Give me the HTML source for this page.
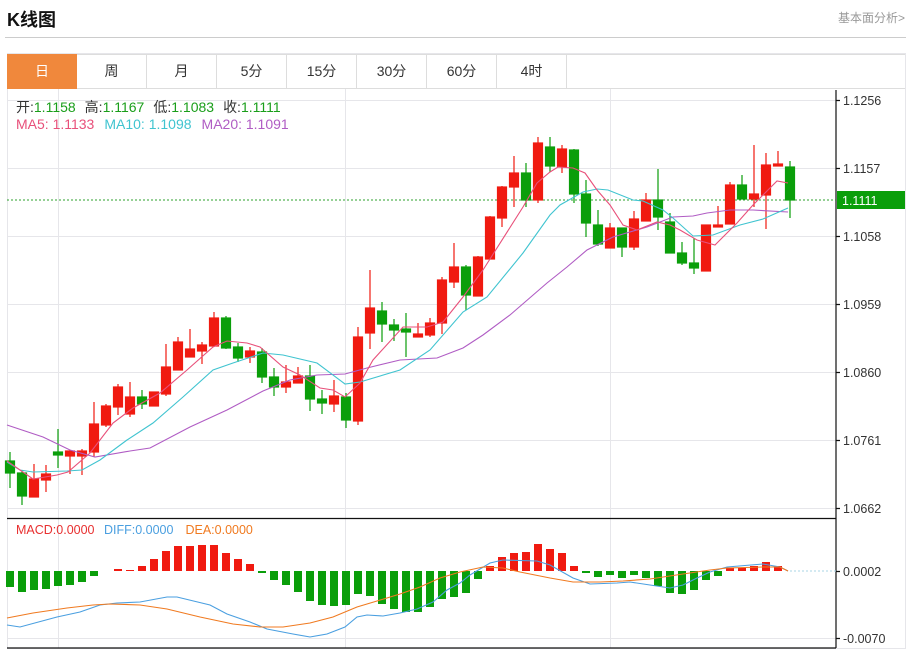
<!DOCTYPE html>
<html><head><meta charset="utf-8"><style>
*{margin:0;padding:0;box-sizing:border-box}
body{width:911px;height:649px;background:#fff;font-family:"Liberation Sans","Noto Sans CJK SC",sans-serif;position:relative;overflow:hidden}
.t{position:absolute;left:7px;top:6px;font-size:18px;font-weight:bold;color:#111}
.m{position:absolute;right:6px;top:9px;font-size:12px;color:#999}
.hl{position:absolute;left:5px;top:37px;width:901px;height:1px;background:#ccc}
.tabs{position:absolute;left:7px;top:54px;height:35px;width:898px;border:1px solid #ddd;border-right:none}
.tab{position:absolute;top:-1px;height:35px;width:70px;border-right:1px solid #ddd;text-align:center;line-height:35px;font-size:14px;color:#333}
svg{position:absolute;left:0;top:0}
</style></head><body>
<div class="t">K线图</div><div class="m">基本面分析&gt;</div><div class="hl"></div>
<svg width="911" height="649" xmlns="http://www.w3.org/2000/svg" font-family="Liberation Sans, Noto Sans CJK SC, sans-serif">
<g stroke="#e6e6ea" stroke-width="1" fill="none">
<rect x="7.5" y="53.5" width="898" height="595"/>
<path d="M7 100.5H836M7 168.5H836M7 236.5H836M7 304.5H836M7 372.5H836M7 440.5H836M7 508.5H836M7 638.5H836"/>
<path d="M58.5 89V648M345.5 89V648M610.5 89V648"/>
</g>
<g stroke="#111" stroke-width="1.2"><path d="M836 90V648M7 518.5H836M7 648H836"/>
<path d="M836 100.5H840M836 168.5H840M836 236.5H840M836 304.5H840M836 372.5H840M836 440.5H840M836 508.5H840M836 571.5H840M836 638.5H840"/></g>
<g font-size="12.5" fill="#333">
<text x="843" y="105">1.1256</text><text x="843" y="173">1.1157</text><text x="843" y="241">1.1058</text><text x="843" y="309">1.0959</text><text x="843" y="377">1.0860</text><text x="843" y="445">1.0761</text><text x="843" y="513">1.0662</text><text x="843" y="576">0.0002</text><text x="843" y="643">-0.0070</text>
</g>
<line x1="7" y1="200" x2="836" y2="200" stroke="#2ca02c" stroke-dasharray="2,2"/>
<rect x="837" y="191" width="68" height="18" fill="#0a9e0a"/><text x="842" y="205" font-size="12.5" fill="#fff">1.1111</text>
<line x1="790" y1="571" x2="836" y2="571" stroke="#a8d4e6" stroke-dasharray="2,2"/>
<g id="c" stroke-width="1.2">
<g stroke="#0a9e0a" fill="#0a9e0a">
<path d="M10 452V488M22 470V505M58 429V468M142 390V409M226 316V349M238 343V362M262 348V383M274 368V396M310 365V411M322 390V414M346 393V428M382 302V342M394 319V341M406 313V357M466 265V310M526 163V207M550 137V172M574 149V203M586 180V237M598 210V246M622 228V257M658 169V230M670 213V253M682 242V265M694 238V274M742 175V199M790 161V218"/>
<rect x="5.5" y="461" width="9" height="12"/><rect x="17.5" y="473" width="9" height="23"/><rect x="53.5" y="452" width="9" height="3"/><rect x="137.5" y="397" width="9" height="7"/><rect x="221.5" y="318" width="9" height="30"/><rect x="233.5" y="347" width="9" height="11"/><rect x="257.5" y="352" width="9" height="25"/><rect x="269.5" y="377" width="9" height="10"/><rect x="305.5" y="376" width="9" height="23"/><rect x="317.5" y="399" width="9" height="4"/><rect x="341.5" y="397" width="9" height="23"/><rect x="377.5" y="311" width="9" height="13"/><rect x="389.5" y="325" width="9" height="5"/><rect x="401.5" y="329" width="9" height="3"/><rect x="461.5" y="267" width="9" height="28"/><rect x="521.5" y="173" width="9" height="27"/><rect x="545.5" y="147" width="9" height="19"/><rect x="569.5" y="150" width="9" height="44"/><rect x="581.5" y="194" width="9" height="29"/><rect x="593.5" y="225" width="9" height="19"/><rect x="617.5" y="228" width="9" height="19"/><rect x="653.5" y="200" width="9" height="17"/><rect x="665.5" y="222" width="9" height="31"/><rect x="677.5" y="253" width="9" height="10"/><rect x="689.5" y="263" width="9" height="5"/><rect x="737.5" y="185" width="9" height="14"/><rect x="785.5" y="167" width="9" height="33"/>
</g>
<g stroke="#f01a10" fill="#f01a10">
<path d="M34 464V497M46 465V492M70 450V474M82 449V475M94 402V457M106 404V427M118 384V415M130 382V417M154 392V406M166 344V396M178 337V370M190 329V357M202 342V364M214 312V346M250 347V363M286 365V393M298 367V383M334 380V412M358 327V425M370 270V349M418 323V337M430 318V337M442 277V334M454 243V288M478 256V296M490 216V259M502 186V227M514 156V207M538 137V203M562 145V173M610 223V248M634 211V250M646 193V221M706 225V271M718 206V227M730 182V224M754 145V207M766 153V229M778 151V165"/>
<rect x="29.5" y="479" width="9" height="18"/><rect x="41.5" y="474" width="9" height="6"/><rect x="65.5" y="451" width="9" height="5"/><rect x="77.5" y="451" width="9" height="5"/><rect x="89.5" y="424" width="9" height="28"/><rect x="101.5" y="406" width="9" height="19"/><rect x="113.5" y="387" width="9" height="20"/><rect x="125.5" y="397" width="9" height="17"/><rect x="149.5" y="392" width="9" height="14"/><rect x="161.5" y="367" width="9" height="27"/><rect x="173.5" y="342" width="9" height="28"/><rect x="185.5" y="349" width="9" height="8"/><rect x="197.5" y="345" width="9" height="6"/><rect x="209.5" y="318" width="9" height="28"/><rect x="245.5" y="351" width="9" height="6"/><rect x="281.5" y="382" width="9" height="5"/><rect x="293.5" y="376" width="9" height="7"/><rect x="329.5" y="396" width="9" height="8"/><rect x="353.5" y="337" width="9" height="84"/><rect x="365.5" y="308" width="9" height="25"/><rect x="413.5" y="334" width="9" height="3"/><rect x="425.5" y="323" width="9" height="12"/><rect x="437.5" y="280" width="9" height="43"/><rect x="449.5" y="267" width="9" height="15"/><rect x="473.5" y="257" width="9" height="39"/><rect x="485.5" y="217" width="9" height="42"/><rect x="497.5" y="187" width="9" height="31"/><rect x="509.5" y="173" width="9" height="14"/><rect x="533.5" y="143" width="9" height="57"/><rect x="557.5" y="149" width="9" height="18"/><rect x="605.5" y="228" width="9" height="20"/><rect x="629.5" y="219" width="9" height="28"/><rect x="641.5" y="200" width="9" height="21"/><rect x="701.5" y="225" width="9" height="46"/><rect x="713.5" y="225" width="9" height="2"/><rect x="725.5" y="185" width="9" height="39"/><rect x="749.5" y="194" width="9" height="5"/><rect x="761.5" y="165" width="9" height="30"/><rect x="773.5" y="164" width="9" height="2"/>
</g></g>
<g fill="none" stroke-width="1.1">
<polyline stroke="#b05cc4" points="7,425 43,437 70,450 95,457 130,451 150,448 190,427 227,410 263,391 290,380 317,375 345,374 367,368 400,360 437,358 463,348 483,335 510,315 547,283 567,267 587,250 613,237 647,227 673,217 693,216 707,213 730,210 753,210 788,212"/>
<polyline stroke="#40c4d0" points="7,462 20,470 33,472 67,471 82,470 100,460 127,440 153,423 183,397 213,370 233,363 263,353 283,355 317,363 345,384 360,382 400,370 430,350 463,312 487,297 523,253 550,215 560,205 583,192 597,189 608,190 633,200 643,201 663,210 673,218 693,236 713,235 740,225 763,219 788,208"/>
<polyline stroke="#e8507a" points="7,461 20,470 33,479 57,475 68,472 90,453 113,423 133,408 160,393 187,370 213,347 227,341 247,343 260,347 283,367 300,375 320,388 333,390 345,397 360,383 373,360 403,327 427,327 443,322 463,297 483,270 523,207 537,183 550,172 558,167 573,168 585,173 597,190 610,205 623,225 637,230 657,222 670,225 680,230 697,240 715,245 737,223 753,205 763,195 777,181 788,183"/>
</g>
<g fill="#0a9e0a">
<rect x="6" y="571" width="8" height="16"/><rect x="18" y="571" width="8" height="21"/><rect x="30" y="571" width="8" height="19"/><rect x="42" y="571" width="8" height="18"/><rect x="54" y="571" width="8" height="15"/><rect x="66" y="571" width="8" height="14"/><rect x="78" y="571" width="8" height="11"/><rect x="90" y="571" width="8" height="5"/>
<rect x="258" y="571" width="8" height="2"/><rect x="270" y="571" width="8" height="9"/><rect x="282" y="571" width="8" height="14"/><rect x="294" y="571" width="8" height="21"/><rect x="306" y="571" width="8" height="30"/><rect x="318" y="571" width="8" height="34"/><rect x="330" y="571" width="8" height="35"/><rect x="342" y="571" width="8" height="34"/><rect x="354" y="571" width="8" height="23"/><rect x="366" y="571" width="8" height="25"/><rect x="378" y="571" width="8" height="33"/><rect x="390" y="571" width="8" height="38"/><rect x="402" y="571" width="8" height="41"/><rect x="414" y="571" width="8" height="41"/><rect x="426" y="571" width="8" height="36"/><rect x="438" y="571" width="8" height="28"/><rect x="450" y="571" width="8" height="26"/><rect x="462" y="571" width="8" height="22"/><rect x="474" y="571" width="8" height="8"/>
<rect x="582" y="571" width="8" height="2"/><rect x="594" y="571" width="8" height="6"/><rect x="606" y="571" width="8" height="4"/><rect x="618" y="571" width="8" height="7"/><rect x="630" y="571" width="8" height="4"/><rect x="642" y="571" width="8" height="7"/><rect x="654" y="571" width="8" height="15"/><rect x="666" y="571" width="8" height="22"/><rect x="678" y="571" width="8" height="23"/><rect x="690" y="571" width="8" height="19"/><rect x="702" y="571" width="8" height="9"/><rect x="714" y="571" width="8" height="5"/>
</g>
<g fill="#f01a10">
<rect x="114" y="569" width="8" height="2"/><rect x="126" y="570" width="8" height="1"/><rect x="138" y="566" width="8" height="5"/><rect x="150" y="559" width="8" height="12"/><rect x="162" y="551" width="8" height="20"/><rect x="174" y="546" width="8" height="25"/><rect x="186" y="546" width="8" height="25"/><rect x="198" y="545" width="8" height="26"/><rect x="210" y="545" width="8" height="26"/><rect x="222" y="553" width="8" height="18"/><rect x="234" y="559" width="8" height="12"/><rect x="246" y="564" width="8" height="7"/>
<rect x="486" y="566" width="8" height="5"/><rect x="498" y="557" width="8" height="14"/><rect x="510" y="553" width="8" height="18"/><rect x="522" y="552" width="8" height="19"/><rect x="534" y="544" width="8" height="27"/><rect x="546" y="549" width="8" height="22"/><rect x="558" y="553" width="8" height="18"/><rect x="570" y="566" width="8" height="5"/>
<rect x="726" y="568" width="8" height="3"/><rect x="738" y="568" width="8" height="3"/><rect x="750" y="566" width="8" height="5"/><rect x="762" y="562" width="8" height="9"/><rect x="774" y="566" width="8" height="5"/>
</g>
<g fill="none" stroke-width="1.1">
<polyline stroke="#4a9fe0" points="7,625 20,627 57,617 80,612 100,605 117,603 140,602 167,597 177,597 210,605 227,614 250,622 267,629 293,634 310,637 327,634 345,627 357,617 367,615 383,616 400,613 417,609 433,602 447,590 460,583 470,575 490,563 503,560 537,561 550,565 573,578 590,584 617,583 630,582 650,585 670,588 683,585 697,578 710,572 727,567 763,564 780,567 788,571"/>
<polyline stroke="#f07a20" points="7,618 33,613 67,608 93,605 110,604 140,605 167,609 200,617 233,624 260,627 283,627 310,623 333,617 357,607 377,601 400,594 420,587 440,578 460,572 483,567 503,568 520,572 550,578 573,582 600,582 623,581 650,579 683,574 710,570 727,568 763,567 780,567 788,571"/>
</g>
<g font-size="14">
<text x="16" y="112" fill="#333">开:<tspan fill="#1a9e1a">1.1158</tspan><tspan dx="9">高:</tspan><tspan fill="#1a9e1a">1.1167</tspan><tspan dx="9">低:</tspan><tspan fill="#1a9e1a">1.1083</tspan><tspan dx="9">收:</tspan><tspan fill="#1a9e1a">1.1111</tspan></text>
<text x="16" y="129" fill="#e8507a">MA5: 1.1133<tspan fill="#40c4d0" dx="10">MA10: 1.1098</tspan><tspan fill="#b05cc4" dx="10">MA20: 1.1091</tspan></text>
</g>
<text x="16" y="534" font-size="12.5" fill="#e83030">MACD:0.0000 <tspan fill="#4a9fe0" dx="6">DIFF:0.0000</tspan><tspan fill="#f07a20" dx="12">DEA:0.0000</tspan></text>
</svg>
<div class="tabs">
<div class="tab" style="left:-1px;width:70px;background:#f0883c;color:#fff;border-right:none">日</div>
<div class="tab" style="left:69px">周</div><div class="tab" style="left:139px">月</div><div class="tab" style="left:209px">5分</div><div class="tab" style="left:279px">15分</div><div class="tab" style="left:349px">30分</div><div class="tab" style="left:419px">60分</div><div class="tab" style="left:489px">4时</div>
</div>
</body></html>
